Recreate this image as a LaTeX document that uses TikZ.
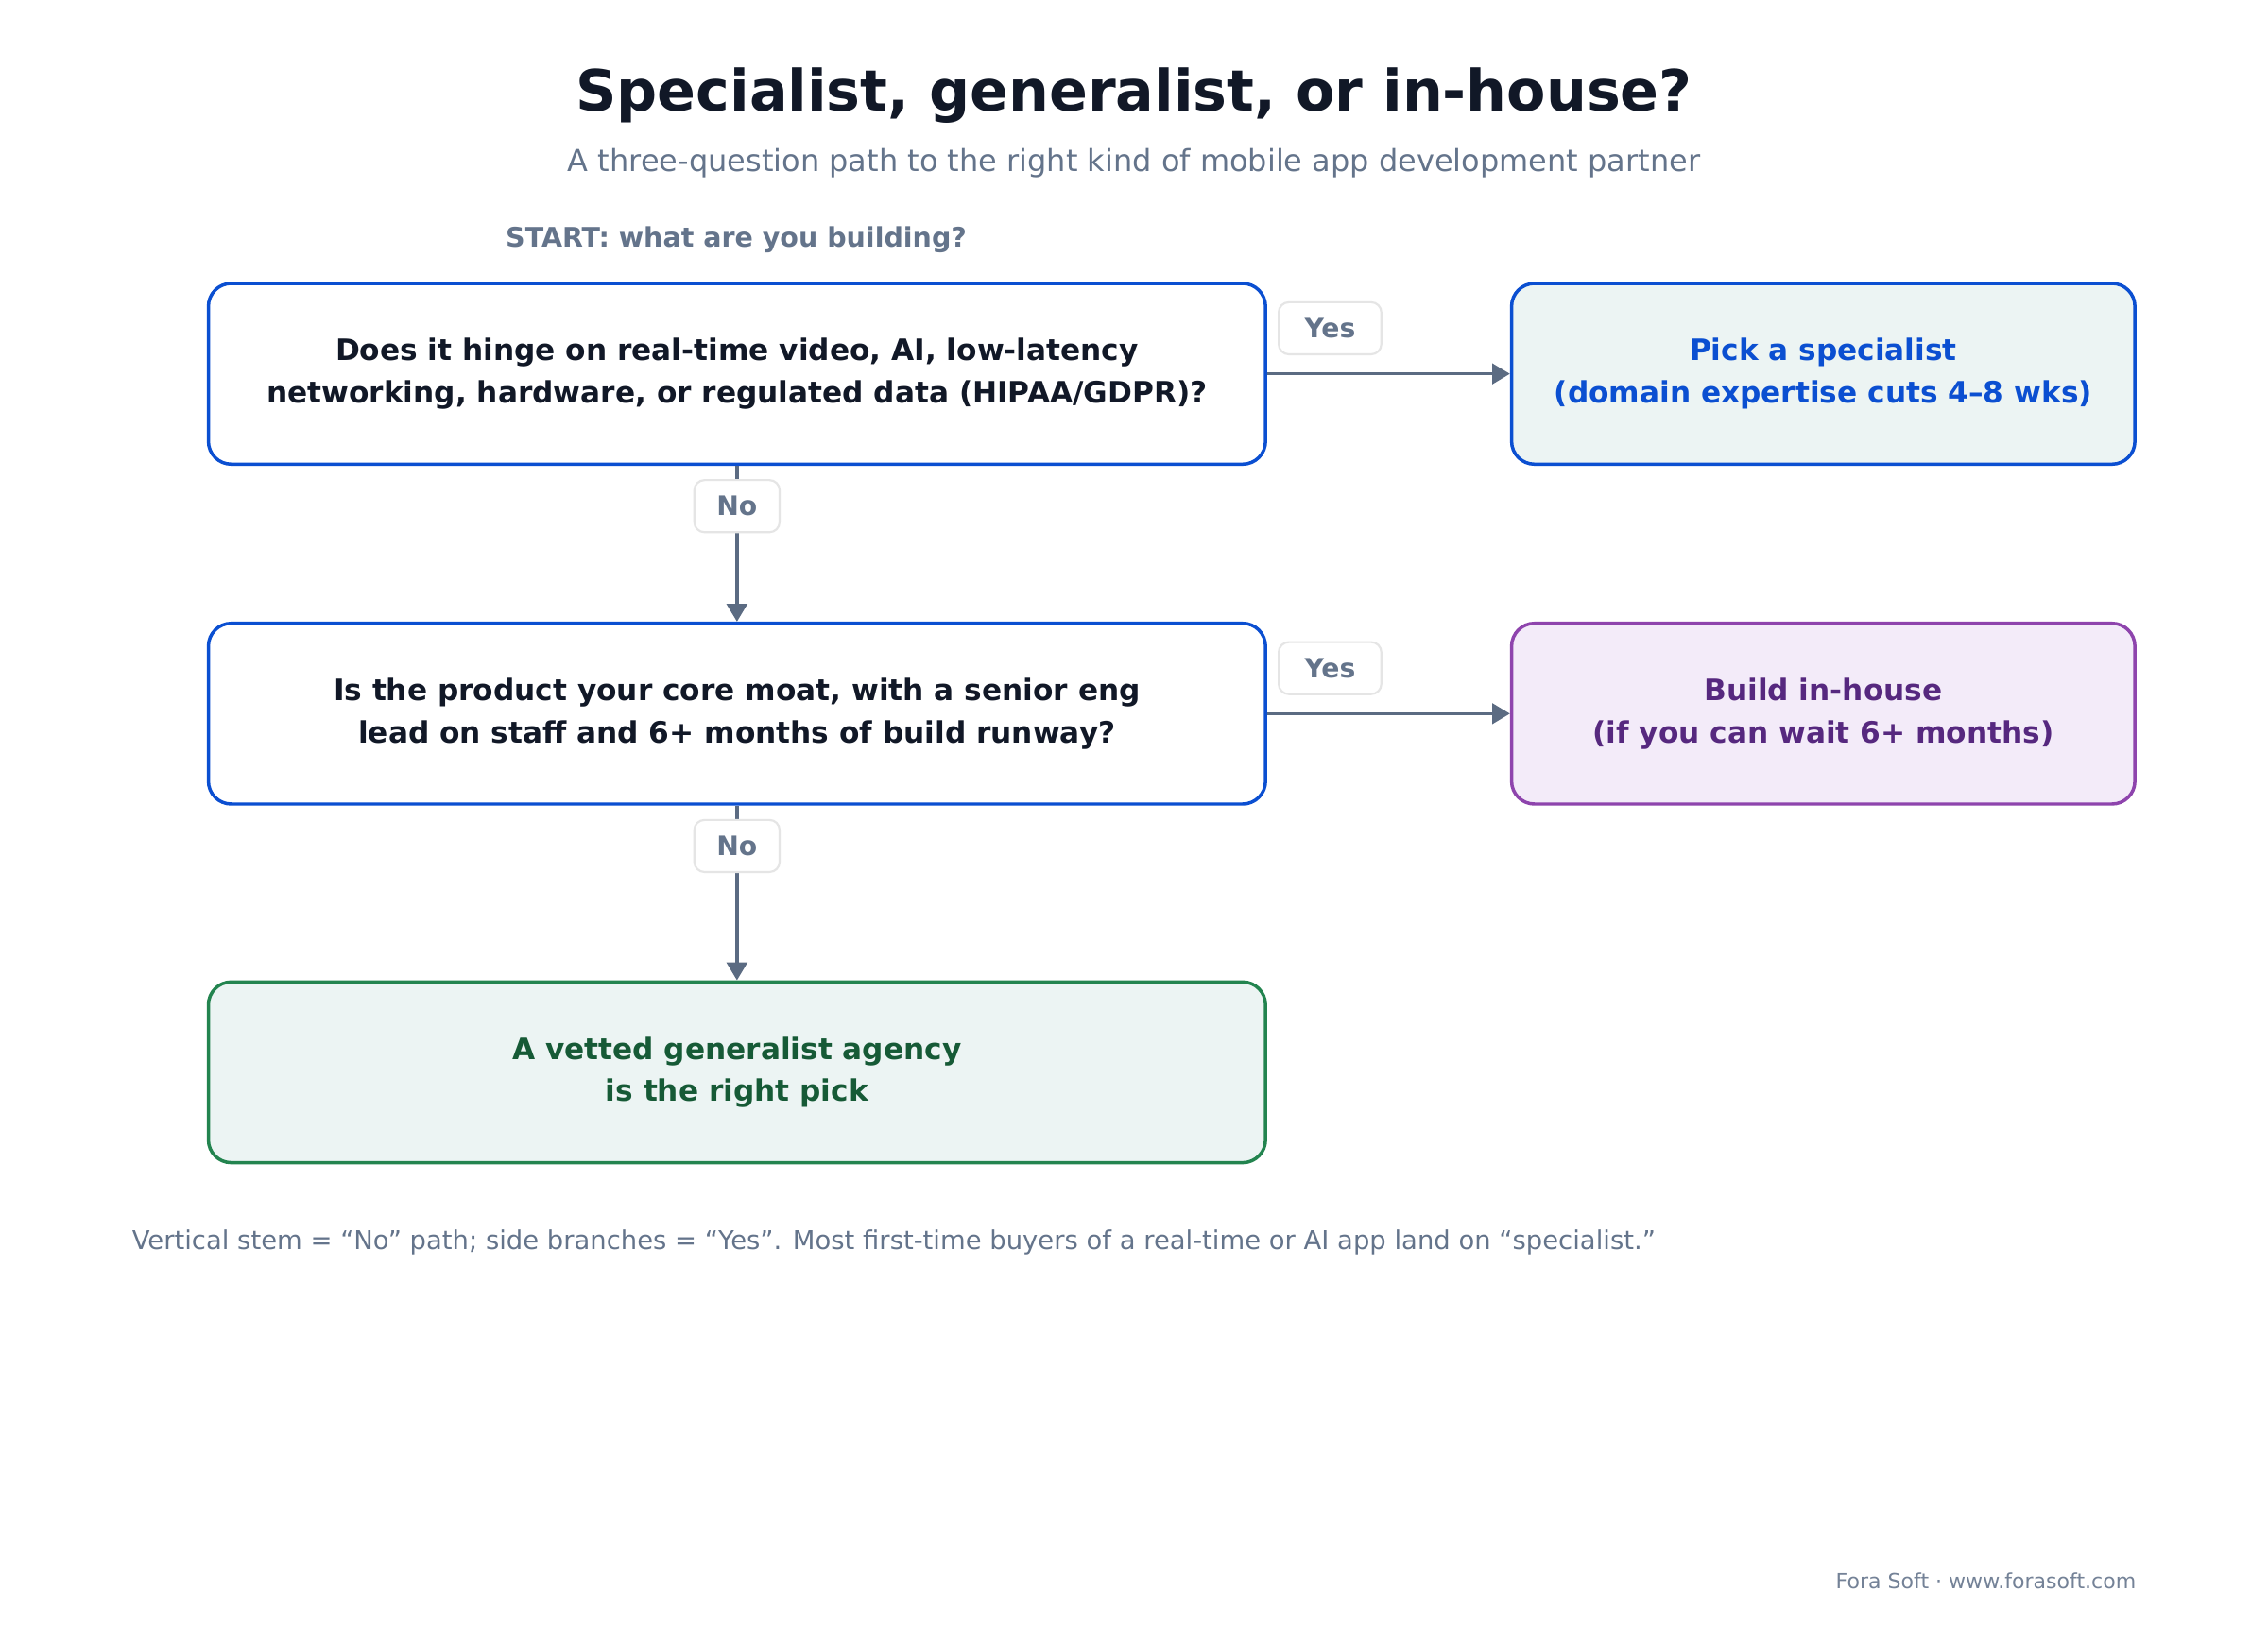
\documentclass[tikz,border=0pt]{standalone}
\usepackage{fontspec}
\setmainfont{DejaVu Sans}
\usetikzlibrary{arrows.meta}
\definecolor{ink}{HTML}{111827}
\definecolor{slate}{HTML}{64748B}
\definecolor{edge}{HTML}{5B6B82}
\definecolor{blu}{HTML}{0B4FD1}
\definecolor{grn}{HTML}{23844F}
\definecolor{dgrn}{HTML}{165A36}
\definecolor{pur}{HTML}{8E44AD}
\definecolor{dpur}{HTML}{56287F}
\definecolor{mint}{HTML}{ECF4F3}
\definecolor{lav}{HTML}{F3EBF9}
\tikzset{
  box/.style={draw, line width=1.3pt, rounded corners=9pt, minimum width=14.62cm,
    minimum height=2.5cm, align=center, font=\bfseries\fontsize{11.6}{16.6}\selectfont},
  sbox/.style={box, minimum width=8.62cm},
  tag/.style={draw=gray!20, fill=white, rounded corners=4pt, line width=0.8pt,
    text=slate, font=\bfseries\fontsize{10.5}{12}\selectfont, minimum height=0.72cm},
  flow/.style={draw=edge, line width=1.3pt, -{Triangle[length=7pt,width=8pt]}}
}
\begin{document}
\begin{tikzpicture}[x=0.02cm,y=-0.02cm]
  \fill[white] (0,0) rectangle (1568,1124);
  \useasboundingbox (0,0) rectangle (1568,1124);

  % title
  \node[text=ink, font=\bfseries\fontsize{22.4}{26}\selectfont] (title) at (784,66) {Specialist, generalist, or in-house?};
  \node[text=slate, font=\fontsize{11.9}{14}\selectfont] (sub) at (784,113) {A three-question path to the right kind of mobile app development partner};
  \node[text=slate, font=\bfseries\fontsize{10.6}{12}\selectfont] (start) at (509,166) {START: what are you building?};

  % boxes
  \node[box, draw=blu, fill=white, text=ink] (q1) at (509.5,258.5)
    {Does it hinge on real-time video, AI, low-latency\\networking, hardware, or regulated data (HIPAA/GDPR)?};
  \node[sbox, draw=blu, fill=mint, text=blu] (spec) at (1260.5,258.5)
    {Pick a specialist\\(domain expertise cuts 4–8 wks)};
  \node[box, draw=blu, fill=white, text=ink] (q2) at (509.5,493.5)
    {Is the product your core moat, with a senior eng\\lead on staff and 6+ months of build runway?};
  \node[sbox, draw=pur, fill=lav, text=dpur] (inh) at (1260.5,493.5)
    {Build in-house\\(if you can wait 6+ months)};
  \node[box, draw=grn, fill=mint, text=dgrn] (gen) at (509.5,741.5)
    {A vetted generalist agency\\is the right pick};

  % connectors
  \draw[flow] (q1) -- (spec);
  \draw[flow] (q2) -- (inh);
  \draw[flow] (q1) -- (q2);
  \draw[flow] (q2) -- (gen);

  \node[tag, minimum width=1.42cm] (y1) at (919.5,227) {Yes};
  \node[tag, minimum width=1.42cm] (y2) at (919.5,462) {Yes};
  \node[tag, minimum width=1.18cm] (n1) at (509.5,350) {No};
  \node[tag, minimum width=1.18cm] (n2) at (509.5,585) {No};

  % notes
  \node[anchor=west, inner sep=0pt, text=slate, font=\fontsize{10.2}{12}\selectfont] (note) at (91,859)
    {Vertical stem = “No” path; side branches = “Yes”. Most first-time buyers of a real-time or AI app land on “specialist.”};
  \node[anchor=east, inner sep=0pt, text=slate!90, font=\fontsize{8.2}{9}\selectfont] (credit) at (1477,1093)
    {Fora Soft · www.forasoft.com};
\end{tikzpicture}
\end{document}
